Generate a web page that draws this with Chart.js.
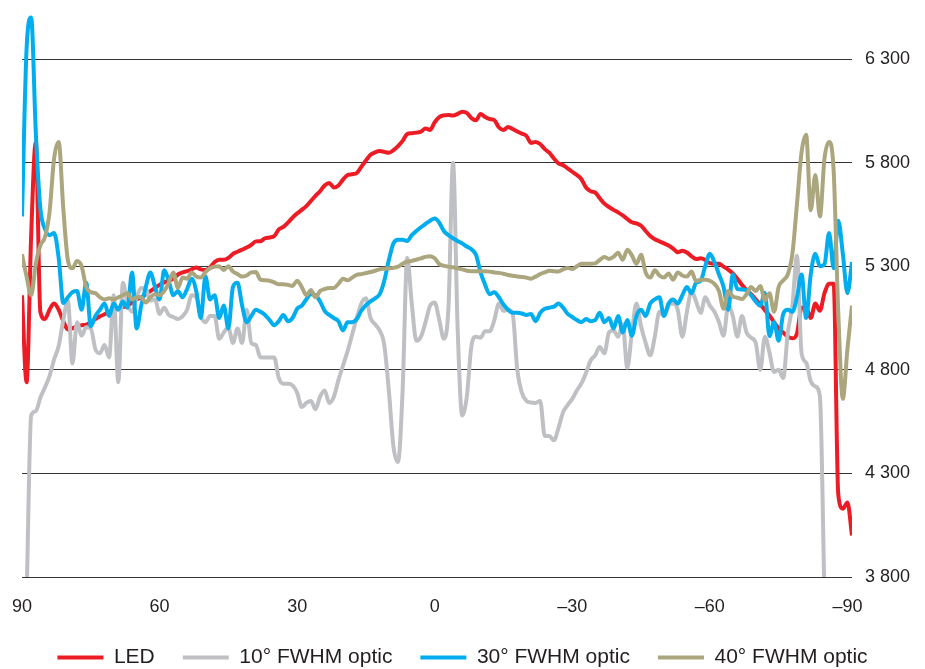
<!DOCTYPE html>
<html>
<head>
<meta charset="utf-8">
<title>LED and optics</title>
<script src="https://cdn.jsdelivr.net/npm/chart.js@4.4.1/dist/chart.umd.min.js"></script>
<style>
    html, body { margin: 0; padding: 0; background: #fff; }
    #wrap { width: 925px; height: 669px; position: relative; }
</style>
</head>
<body>
<div id="wrap"><canvas id="chart"></canvas></div>
<script>
// angle in degrees, left (90) to right (-91)
const angles = [
    90, 89, 88, 87, 86, 85, 84, 83, 82, 81,
    80, 79, 78, 77, 76, 75, 74, 73, 72, 71,
    70, 69, 68, 67, 66, 65, 64, 63, 62, 61,
    60, 59, 58, 57, 56, 55, 54, 53, 52, 51,
    50, 49, 48, 47, 46, 45, 44, 43, 42, 41,
    40, 39, 38, 37, 36, 35, 34, 33, 32, 31,
    30, 29, 28, 27, 26, 25, 24, 23, 22, 21,
    20, 19, 18, 17, 16, 15, 14, 13, 12, 11,
    10, 9, 8, 7, 6, 5, 4, 3, 2, 1,
    0, -1, -2, -3, -4, -5, -6, -7, -8, -9,
    -10, -11, -12, -13, -14, -15, -16, -17, -18, -19,
    -20, -21, -22, -23, -24, -25, -26, -27, -28, -29,
    -30, -31, -32, -33, -34, -35, -36, -37, -38, -39,
    -40, -41, -42, -43, -44, -45, -46, -47, -48, -49,
    -50, -51, -52, -53, -54, -55, -56, -57, -58, -59,
    -60, -61, -62, -63, -64, -65, -66, -67, -68, -69,
    -70, -71, -72, -73, -74, -75, -76, -77, -78, -79,
    -80, -81, -82, -83, -84, -85, -86, -87, -88, -89,
    -90, -91
];

const led = [
    5160, 4740, 5450, 5900, 5080, 5045, 5090, 5120, 5090, 5035,
    4995, 5000, 5010, 5015, 5018, 5030, 5045, 5058, 5068, 5080,
    5090, 5097, 5103, 5110, 5125, 5140, 5150, 5165, 5180, 5195,
    5210, 5222, 5230, 5240, 5260, 5270, 5276, 5285, 5294, 5285,
    5282, 5294, 5320, 5331, 5331, 5340, 5360, 5370, 5380, 5390,
    5403, 5420, 5421, 5435, 5439, 5445, 5478, 5490, 5510, 5535,
    5555, 5572, 5590, 5615, 5640, 5662, 5690, 5702, 5680, 5690,
    5718, 5740, 5744, 5750, 5780, 5810, 5838, 5850, 5856, 5852,
    5848, 5860, 5880, 5905, 5938, 5942, 5945, 5950, 5965, 5958,
    5995, 6020, 6028, 6030, 6028, 6035, 6046, 6040, 6015, 6005,
    6035, 6020, 6010, 6005, 5970, 5958, 5972, 5962, 5950, 5940,
    5929, 5895, 5900, 5890, 5865, 5848, 5820, 5796, 5788, 5772,
    5756, 5740, 5720, 5680, 5662, 5656, 5628, 5602, 5586, 5572,
    5560, 5545, 5528, 5512, 5507, 5495, 5470, 5446, 5430, 5420,
    5410, 5400, 5385, 5367, 5375, 5366, 5348, 5335, 5338, 5330,
    5315, 5312, 5312, 5298, 5284, 5265, 5240, 5210, 5185, 5165,
    5140, 5116, 5088, 5062, 5030, 5000, 4980, 4960, 4952, 4975,
    5100, 5100, 5050, 5120, 5085, 5170, 5215, 5215, 4200, 4130,
    4160, 4000
];

const optic10 = [
    null, 3700, 4580, 4600, 4665, 4715, 4770, 4850, 4915, 5040,
    5135, 4830, 5030, 4965, 5005, 5000, 4900, 4880, 4920, 4860,
    5160, 4740, 5220, 5120, 5080, 5150, 5195, 5190, 5135, 5140,
    5070, 5100, 5065, 5055, 5045, 5058, 5090, 5160, 5150, 5060,
    5030, 5060, 5060, 4950, 4980, 5004, 4930, 5000, 4930, 5090,
    4930, 4920, 4860, 4859, 4859, 4859, 4760, 4733, 4733, 4725,
    4690, 4620, 4640, 4650, 4610, 4670, 4700, 4640, 4670, 4750,
    4820, 4890, 4970, 5050, 5120, 5145, 5050, 5020, 4990, 4920,
    4700, 4430, 4355, 4700, 5340, 5120, 4940, 4960, 5030, 5110,
    5125, 5040, 4950, 5100, 5800, 5000, 4580, 4670, 4914, 4960,
    4955, 4986, 4986, 5040, 5120, 5085, 5090, 5070, 4800, 4690,
    4650, 4642, 4640, 4650, 4480, 4480, 4460, 4520, 4595, 4630,
    4660, 4700, 4735, 4785, 4845, 4870, 4910, 4880, 4980, 4990,
    4960, 5020, 4810, 4980, 5120, 5010, 4930, 4870, 4960, 5080,
    5060, 5110, 5120, 5090, 4960, 5080, 5180, 5130, 5075, 5150,
    5110, 5080, 5030, 4965, 5110, 5060, 4960, 5060, 4980, 4955,
    4930, 4800, 4960, 4883, 4790, 4800, 4760, 4980, 5110, 5350,
    4880, 4835, 4745, 4720, 4670, 3700, null, null, null, null,
    null, null
];

const optic30 = [
    5540, 6350, 6500, 5950, 5580, 5480, 5450, 5460, 5340, 5123,
    5150, 5175, 5180, 5090, 5220, 5010, 5060, 5090, 5120, 5060,
    5120, 5090, 5130, 5100, 5270, 5000, 5110, 5200, 5270, 5200,
    5140, 5280, 5230, 5160, 5180, 5150, 5190, 5240, 5180, 5050,
    5250, 5140, 5160, 5050, 5110, 5000, 5200, 5220, 5110, 5030,
    5060, 5090, 5080, 5065, 5040, 5015, 5035, 5065, 5035, 5050,
    5095, 5110, 5140, 5165, 5160, 5130, 5085, 5065, 5050, 5035,
    4990, 5030, 5030, 5045, 5085, 5112, 5130, 5145, 5165, 5230,
    5330, 5410, 5428, 5428, 5422, 5450, 5470, 5488, 5505, 5520,
    5530, 5510, 5470, 5450, 5435, 5422, 5410, 5395, 5382, 5355,
    5270, 5210, 5165, 5175, 5150, 5115, 5090, 5075, 5075, 5072,
    5065, 5070, 5035, 5075, 5095, 5100, 5105, 5120, 5100, 5070,
    5055, 5040, 5030, 5045, 5035, 5040, 5075, 5030, 5050, 5000,
    5060, 4980, 5040, 4965, 5060, 5090, 5060, 5120, 5140, 5150,
    5060, 5120, 5140, 5120, 5160, 5200, 5170, 5220, 5230, 5300,
    5360, 5320, 5260, 5200, 5090, 5260, 5190, 5188, 5185, 5160,
    5130, 5110, 5172, 4963, 5030, 4940, 5070, 5090, 5080, 5150,
    5260, 5050, 5260, 5360, 5300, 5310, 5460, 5290, 5520, 5360,
    5170, 5320
];

const optic40 = [
    5358, 5250, 5160, 5310, 5400, 5440, 5560, 5820, 5900, 5580,
    5330, 5290, 5325, 5300, 5200, 5175, 5170, 5150, 5140, 5145,
    5140, 5150, 5160, 5170, 5140, 5150, 5150, 5125, 5150, 5165,
    5160, 5180, 5220, 5270, 5195, 5245, 5240, 5270, 5250, 5245,
    5272, 5290, 5298, 5300, 5282, 5300, 5275, 5262, 5250, 5255,
    5270, 5272, 5235, 5232, 5230, 5222, 5213, 5213, 5210, 5205,
    5230, 5200, 5160, 5185, 5150, 5180, 5190, 5195, 5195, 5215,
    5240, 5232, 5245, 5258, 5262, 5267, 5272, 5278, 5285, 5288,
    5290, 5292, 5298, 5312, 5322, 5326, 5332, 5338, 5345, 5348,
    5338, 5310, 5302, 5298, 5295, 5290, 5285, 5278, 5276, 5276,
    5276, 5276, 5274, 5270, 5268, 5264, 5258, 5254, 5250, 5248,
    5245, 5240, 5250, 5262, 5270, 5278, 5276, 5275, 5285, 5292,
    5286, 5300, 5312, 5312, 5312, 5314, 5330, 5345, 5335, 5345,
    5365, 5331, 5380, 5352, 5312, 5355, 5270, 5245, 5280, 5255,
    5245, 5265, 5235, 5270, 5255, 5250, 5275, 5228, 5235, 5235,
    5230, 5215, 5180, 5095, 5180, 5155, 5148, 5142, 5165, 5200,
    5180, 5205, 5135, 5170, 5080, 5200, 5232, 5260, 5360, 5600,
    5850, 5935, 5570, 5740, 5540, 5820, 5900, 5760, 5080, 4660,
    4900, 5110
];

const seriesNames = ["LED", "10° FWHM optic", "30° FWHM optic", "40° FWHM optic"];
const seriesColors = ["#ed1c24", "#bfc0c3", "#00aeef", "#aca67e"];

const xTicks = [90, 60, 30, 0, -30, -60, -90];
const yTicks = [3800, 4300, 4800, 5300, 5800, 6300];

const textColor = "#231f20";

function toPoints(values) {
    return values.map((v, i) => ({x: angles[i], y: v}));
}

function formatAngle(value) {
    // en dash for negative angles
    return value < 0 ? "\u2013" + (-value) : String(value);
}

function formatValue(value) {
    return String(value).replace(/\B(?=(\d{3})+(?!\d))/g, " ");
}

function buildDatasets() {
    const all = [led, optic10, optic30, optic40];
    return all.map((values, i) => ({
        label: seriesNames[i],
        data: toPoints(values),
        borderColor: seriesColors[i],
        backgroundColor: seriesColors[i],
        borderWidth: 4,
        pointRadius: 0,
        pointHoverRadius: 0,
        tension: 0.35,
        cubicInterpolationMode: "monotone",
        spanGaps: false,
        // later series are painted over earlier ones
        order: all.length - i,
    }));
}

function renderChart() {
    Chart.defaults.font.family = '"Liberation Sans", Arial, sans-serif';
    Chart.defaults.color = textColor;

    const ctx = document.getElementById("chart");
    return new Chart(ctx, {
        type: "line",
        data: {datasets: buildDatasets()},
        options: {
            responsive: true,
            maintainAspectRatio: false,
            animation: false,
            events: [],
            layout: {padding: 0},
            scales: {
                x: {
                    type: "linear",
                    min: -91,
                    max: 90,
                    reverse: true,
                    grid: {display: false, drawTicks: false},
                    border: {display: false},
                    ticks: {
                        autoSkip: false,
                        maxRotation: 0,
                        padding: 19,
                        font: {size: 18},
                        color: textColor,
                        callback: value => formatAngle(value),
                    },
                    afterBuildTicks: axis => {
                        axis.ticks = xTicks.map(v => ({value: v}));
                    },
                    afterFit: axis => {
                        axis.height = 42;
                        axis.paddingLeft = 22;
                        axis.paddingRight = 0;
                    },
                },
                y: {
                    type: "linear",
                    position: "right",
                    min: 3800,
                    max: 6585,
                    grid: {color: "#333333", lineWidth: 1, drawTicks: false},
                    border: {display: false},
                    ticks: {
                        padding: 13,
                        font: {size: 18},
                        color: textColor,
                        callback: value => formatValue(value),
                    },
                    afterBuildTicks: axis => {
                        axis.ticks = yTicks.map(v => ({value: v}));
                    },
                    afterFit: axis => {
                        axis.width = 73;
                        axis.paddingTop = 0;
                        axis.paddingBottom = 0;
                    },
                },
            },
            plugins: {
                tooltip: {enabled: false},
                title: {display: false},
                legend: {
                    position: "bottom",
                    maxHeight: 50,
                    labels: {
                        usePointStyle: true,
                        pointStyle: "line",
                        pointStyleWidth: 46,
                        padding: 28,
                        color: textColor,
                        font: {size: 21},
                        sort: (a, b) => a.datasetIndex - b.datasetIndex,
                    },
                },
            },
        },
    });
}

window.addEventListener("load", () => {
    renderChart();
});
</script>
</body>
</html>
